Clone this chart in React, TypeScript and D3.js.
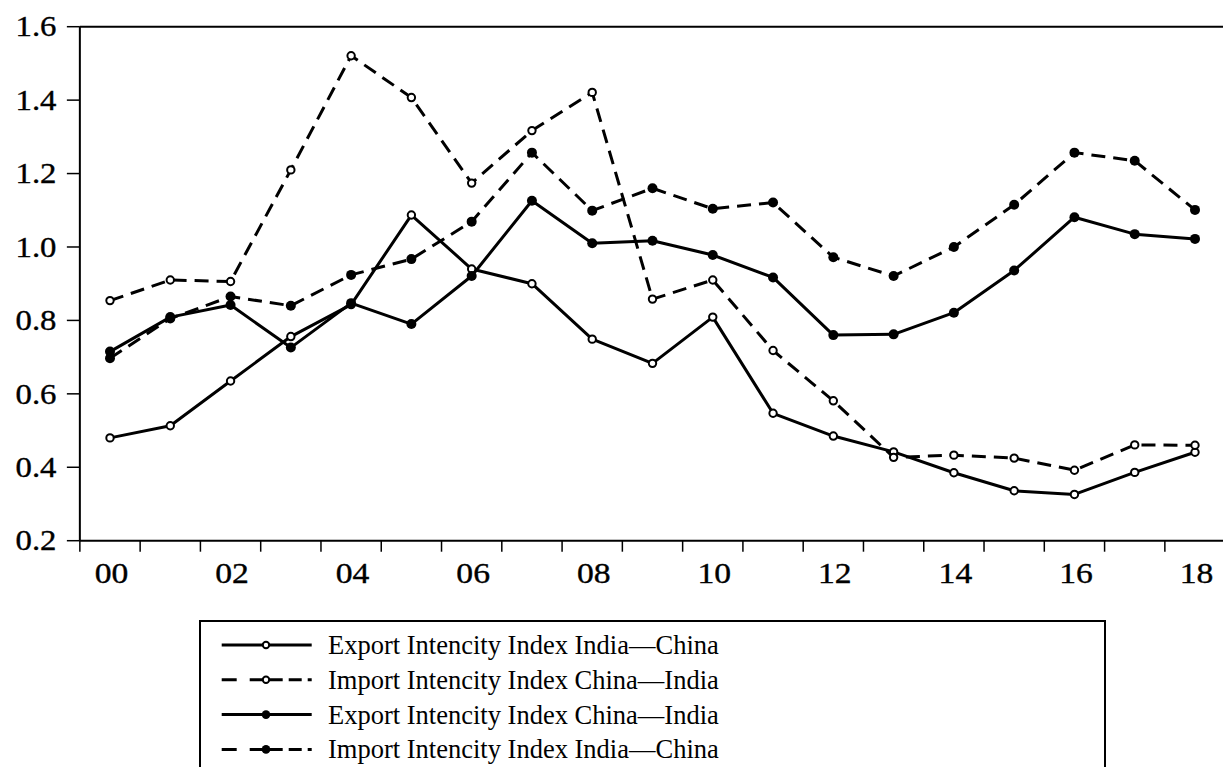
import React from "react";
import * as d3 from "d3";

const years = ["00","01","02","03","04","05","06","07","08","09","10","11","12","13","14","15","16","17","18"];
const yTicks = [0.2, 0.4, 0.6, 0.8, 1.0, 1.2, 1.4, 1.6];

const exportIndiaChina = [0.48,0.513,0.635,0.756,0.843,1.087,0.94,0.90,0.749,0.683,0.809,0.547,0.485,0.442,0.385,0.336,0.326,0.386,0.441];
const importChinaIndia = [0.854,0.91,0.906,1.21,1.521,1.407,1.174,1.317,1.421,0.858,0.91,0.718,0.581,0.427,0.433,0.425,0.392,0.461,0.46];
const exportChinaIndia = [0.715,0.809,0.842,0.726,0.847,0.79,0.921,1.126,1.01,1.017,0.978,0.917,0.76,0.762,0.821,0.936,1.081,1.035,1.022];
const importIndiaChina = [0.697,0.805,0.865,0.84,0.924,0.967,1.069,1.257,1.099,1.16,1.104,1.121,0.972,0.921,1.0,1.115,1.257,1.235,1.101];

const seriesNames = [
  "Export Intencity Index India\u2014China",
  "Import Intencity Index China\u2014India",
  "Export Intencity Index China\u2014India",
  "Import Intencity Index India\u2014China",
];

const series = [
  { name: seriesNames[0], values: exportIndiaChina, dashed: false, filled: false },
  { name: seriesNames[1], values: importChinaIndia, dashed: true, filled: false },
  { name: seriesNames[2], values: exportChinaIndia, dashed: false, filled: true },
  { name: seriesNames[3], values: importIndiaChina, dashed: true, filled: true },
];

const W = 1223;
const H = 767;
const FONT = "'Liberation Serif', 'Times New Roman', serif";

export default function App() {
  const x = d3.scaleLinear().domain([0, years.length - 1]).range([110, 1195]);
  const y = d3.scaleLinear().domain([0.2, 1.6]).range([540.7, 26.7]);
  const left = x(-0.5);
  const bottom = y(0.2);
  const top = y(1.6);
  const line = d3
    .line<number>()
    .x((_, i) => x(i))
    .y((d) => y(d));

  const legendX = 200;
  const legendTop = 621;
  const rowY = (i: number) => 645 + i * 34.8;

  return (
    <svg
      width={W}
      height={H}
      style={{ position: "absolute", left: 0, top: 0, background: "#fff" }}
      fontFamily={FONT}
    >
      <rect x={0} y={0} width={W} height={H} fill="#fff" />
      {/* frame */}
      <line x1={left} y1={top} x2={W + 10} y2={top} stroke="#000" strokeWidth={2} />
      <line x1={left} y1={top} x2={left} y2={bottom} stroke="#000" strokeWidth={2} />
      <line x1={left} y1={bottom} x2={W + 10} y2={bottom} stroke="#000" strokeWidth={2} />
      {/* y ticks */}
      {yTicks.map((t) => (
        <g key={"y" + t}>
          <line x1={left - 13} x2={left} y1={y(t)} y2={y(t)} stroke="#000" strokeWidth={1.5} />
          <text
            transform={`translate(56.5,${y(t) + 9.7}) scale(1.15,1)`}
            textAnchor="end"
            fontSize={28.5}
            fill="#000"
            stroke="#000"
            strokeWidth={0.35}
          >
            {t.toFixed(1)}
          </text>
        </g>
      ))}
      {/* x ticks */}
      {d3.range(0, years.length + 1).map((k) => (
        <line
          key={"xt" + k}
          x1={x(k - 0.5)}
          x2={x(k - 0.5)}
          y1={bottom}
          y2={bottom + 11}
          stroke="#000"
          strokeWidth={1.5}
        />
      ))}
      {years.map((yr, i) =>
        i % 2 === 0 ? (
          <text
            key={"xl" + yr}
            transform={`translate(${x(i) + 1.5},582.5) scale(1.18,1)`}
            textAnchor="middle"
            fontSize={28.5}
            fill="#000"
            stroke="#000"
            strokeWidth={0.35}
          >
            {yr}
          </text>
        ) : null
      )}
      {/* series */}
      {series.map((s, si) => (
        <g key={"s" + si}>
          <path
            d={line(s.values) || ""}
            fill="none"
            stroke="#000"
            strokeWidth={3}
            strokeDasharray={s.dashed ? "14,8" : undefined}
            strokeLinejoin="round"
          />
          {s.values.map((v, i) =>
            s.filled ? (
              <circle key={i} cx={x(i)} cy={y(v)} r={5} fill="#000" />
            ) : (
              <circle key={i} cx={x(i)} cy={y(v)} r={3.7} fill="#fff" stroke="#000" strokeWidth={2} />
            )
          )}
        </g>
      ))}
      {/* legend */}
      <path
        d={`M${legendX},${H + 5} V${legendTop} H1105 V${H + 5}`}
        fill="none"
        stroke="#000"
        strokeWidth={2}
      />
      {series.map((s, i) => (
        <g key={"lg" + i}>
          <line
            x1={221.7}
            x2={311.7}
            y1={rowY(i)}
            y2={rowY(i)}
            stroke="#000"
            strokeWidth={3}
            strokeDasharray={s.dashed ? "15,13,33,6,13,6,4" : undefined}
          />
          {s.filled ? (
            <circle cx={266} cy={rowY(i)} r={4.3} fill="#000" />
          ) : (
            <circle cx={266} cy={rowY(i)} r={3.2} fill="#fff" stroke="#000" strokeWidth={2} />
          )}
          <text x={328} y={rowY(i) + 9} fontSize={26.5} fill="#000">
            {s.name}
          </text>
        </g>
      ))}
    </svg>
  );
}
